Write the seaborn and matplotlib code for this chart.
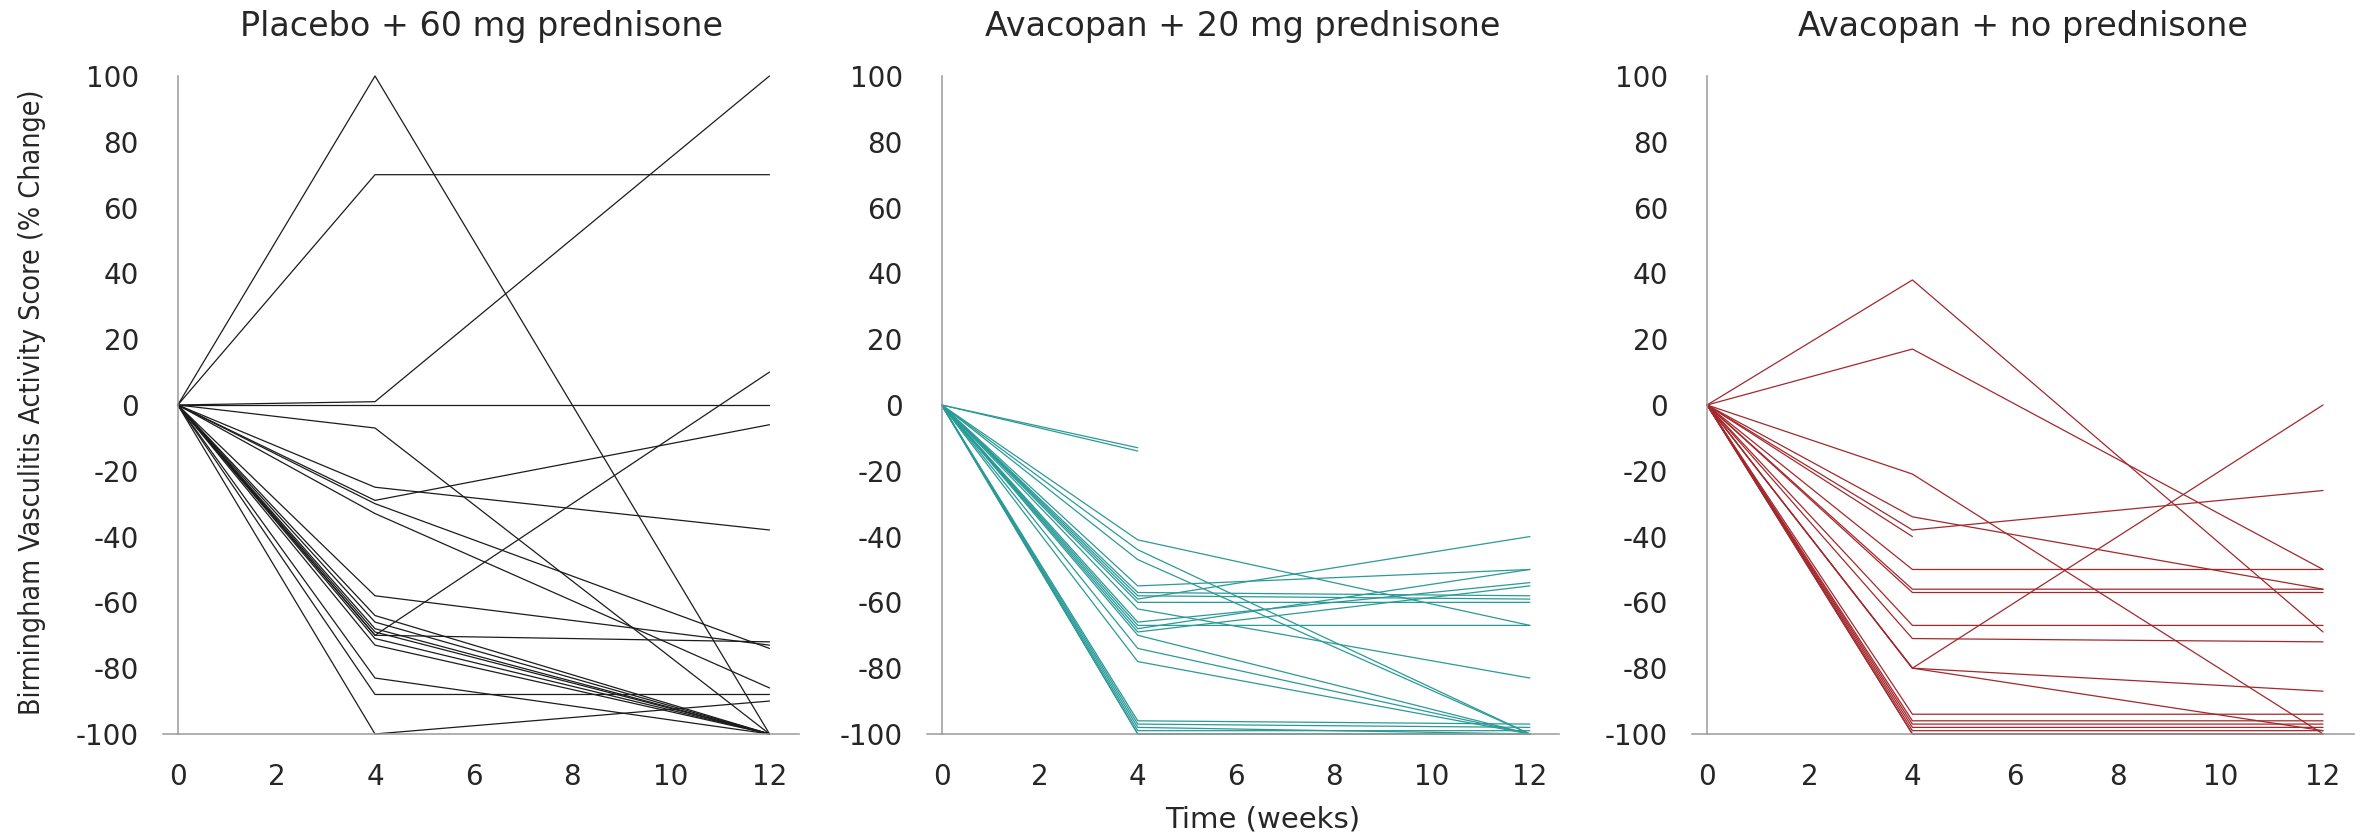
import matplotlib
matplotlib.use("Agg")
import matplotlib.pyplot as plt
import seaborn as sns
import pandas as pd

# % change in BVAS at weeks 0, 4 and 12, one entry per patient (None = no week-12 value)
weeks = [0, 4, 12]

placebo_wk4 = [100, 70, 1, 0, -7, -25, -29, -30, -33, -58, -64, -66, -68, -69,
               -70, -70, -71, -73, -83, -88, -100]
placebo_wk12 = [-100, 70, 100, 0, -100, -38, -6, -74, -86, -73, -100, -100, -100, -100,
                10, -72, -100, -100, -100, -88, -90]

low_dose_wk4 = [-13, -14, -41, -44, -47, -55, -57, -58, -59, -60, -62, -66, -67, -68,
                -69, -70, -74, -78, -96, -97, -98, -99, -100, -100]
low_dose_wk12 = [None, None, -67, -100, -100, -50, -58, -59, -40, -60, -83, -54, -67, -50,
                 -55, -100, -100, -100, -97, -98, -100, -99, -100, -100]

no_pred_wk4 = [38, 17, -21, -34, -38, -40, -50, -56, -57, -67, -71, -80, -80, -80,
               -94, -96, -97, -98, -99, -100, -100]
no_pred_wk12 = [-69, -50, -100, -56, -26, None, -50, -56, -57, -67, -72, 0, -87, -99,
                -94, -96, -97, -98, -99, -100, -100]

titles = ["Placebo + 60 mg prednisone", "Avacopan + 20 mg prednisone", "Avacopan + no prednisone"]
colors = ["#1c1c1c", "#2a9a97", "#a3282c"]


def to_frame(wk4, wk12):
    rows = []
    for i, (a, b) in enumerate(zip(wk4, wk12)):
        rows.append((i, weeks[0], 0))
        rows.append((i, weeks[1], a))
        if b is not None:
            rows.append((i, weeks[2], b))
    return pd.DataFrame(rows, columns=["subject", "week", "change"])


panels = [
    to_frame(placebo_wk4, placebo_wk12),
    to_frame(low_dose_wk4, low_dose_wk12),
    to_frame(no_pred_wk4, no_pred_wk12),
]

sns.set_style("white")
plt.rcParams["font.family"] = ["DejaVu Sans"]
plt.rcParams["axes.unicode_minus"] = False

fig = plt.figure(figsize=(23.69, 8.35), dpi=100)
boxes = [(0.0688, 0.2685), (0.3913, 0.2669), (0.7141, 0.2795)]
grey = "#9a9a9a"

for df, title, color, (left, width) in zip(panels, titles, colors, boxes):
    ax = fig.add_axes([left, 0.121, width, 0.788])
    sns.lineplot(data=df, x="week", y="change", units="subject", estimator=None,
                 color=color, lw=0.9, ax=ax, legend=False)
    for line in ax.lines:
        line.set_clip_on(False)

    ax.set_xlim(-0.3, 12.6)
    ax.set_ylim(-100, 100)
    ax.spines["top"].set_visible(False)
    ax.spines["right"].set_visible(False)
    ax.spines["left"].set_position(("data", 0))
    for side in ["left", "bottom"]:
        ax.spines[side].set_color(grey)
        ax.spines[side].set_linewidth(1.1)

    ax.set_xticks(range(0, 13, 2))
    ax.set_xticks(range(1, 13, 2), minor=True)
    ax.set_yticks(range(-100, 101, 20))
    ax.tick_params(axis="x", which="both", direction="out", length=5, width=1,
                   color=grey, pad=16, labelsize=20)
    ax.tick_params(axis="y", direction="out", length=10, width=1,
                   color=grey, pad=18, labelsize=20)
    ax.set_xlabel("")
    ax.set_ylabel("")
    ax.text(0.5, 1.0745, title, transform=ax.transAxes, ha="center", va="center", fontsize=24)

fig.text(32 / 2369, 0.518, "Birmingham Vasculitis Activity Score (% Change)", rotation=90,
         ha="center", va="center", fontsize=20.5, family="DejaVu Sans", fontstretch="condensed")
fig.text(0.533, 0.018, "Time (weeks)", ha="center", va="center", fontsize=21)

fig.savefig("out.png", dpi=100)
